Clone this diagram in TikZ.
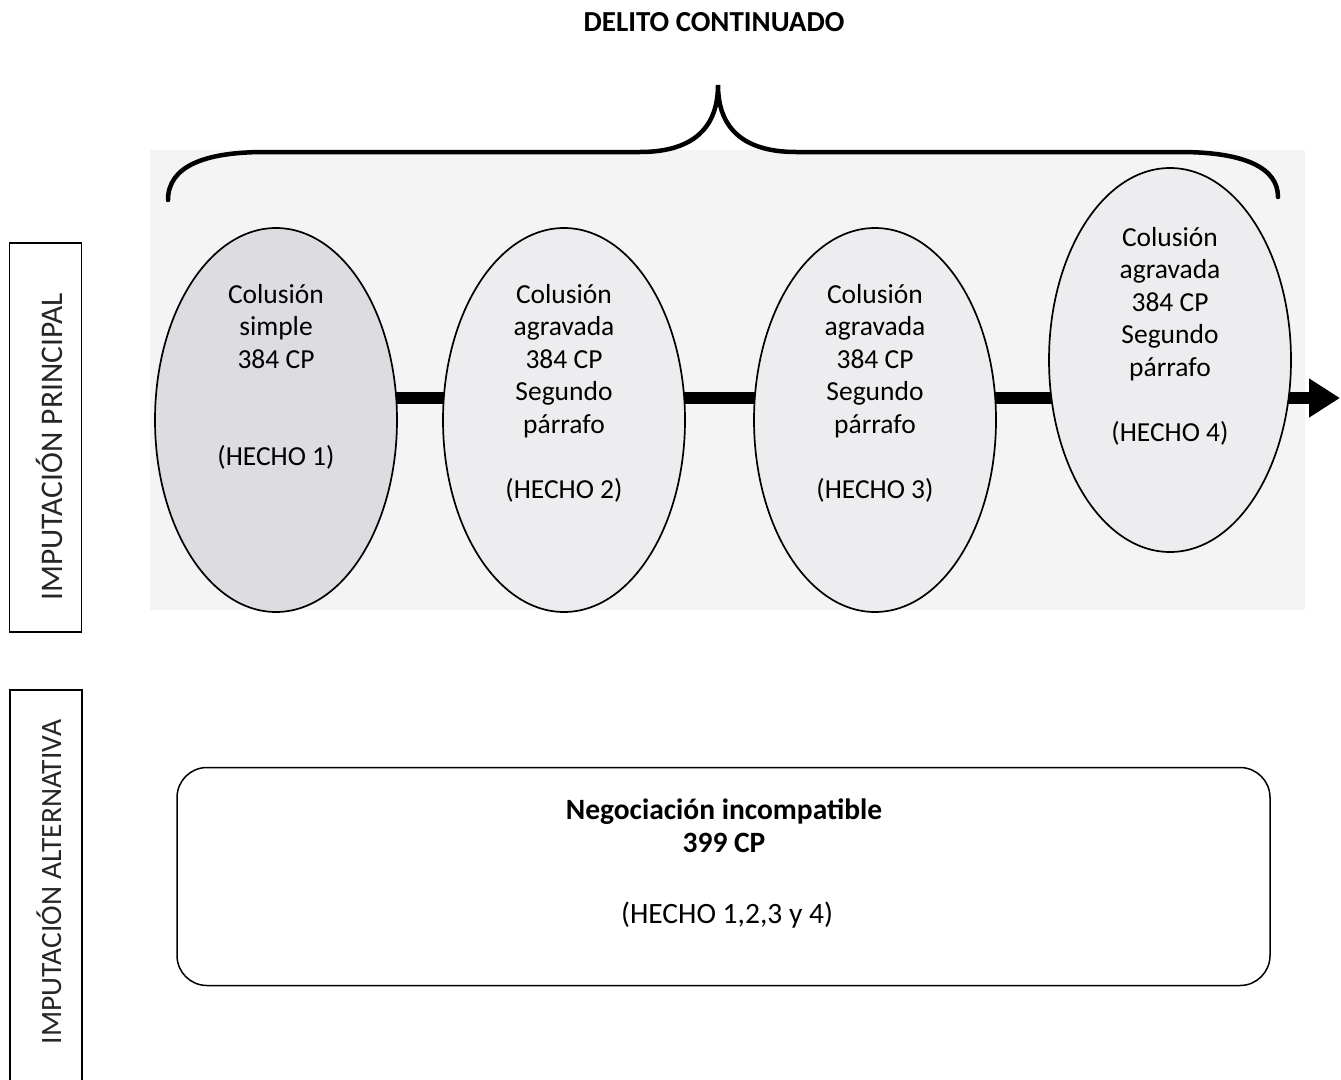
\documentclass[tikz,border=0pt]{standalone}
\usepackage{fontspec}
\setmainfont{Carlito}
\usetikzlibrary{shapes.geometric,arrows.meta,backgrounds}
\definecolor{panel}{HTML}{F4F4F5}
\definecolor{firstfill}{HTML}{DCDCE1}
\definecolor{eventfill}{HTML}{EDEDF0}
\tikzset{
  txt/.style={font=\fontsize{27.5}{32.5}\selectfont, align=center, inner sep=0pt},
  boldtxt/.style={align=center, inner sep=0pt, font=\fontsize{29.5}{33}\selectfont\bfseries},
  event/.style={ellipse, draw, line width=1.7pt, minimum width=242, minimum height=384, inner sep=0pt},
  bar/.style={line width=11.5pt},
  sidebox/.style={draw, line width=1.3pt, inner sep=0pt},
  sidetxt/.style={rotate=90, inner sep=0pt, text=black!85},
  brace/.style={line width=4.5pt, line cap=round},
}
\begin{document}
\begin{tikzpicture}[x=1pt,y=-1pt]
\clip (0,0) rectangle (1341,1079);

% title and brace
\node[boldtxt, font=\fontsize{29}{33}\selectfont\bfseries] (title) at (714,22) {DELITO CONTINUADO};
\draw[brace] (168,200) .. controls (168,166) and (205,152) .. (265,152) -- (640,152)
  .. controls (695,152) and (718,126) .. (718,85)
  .. controls (718,126) and (741,152) .. (796,152) -- (1180,152)
  .. controls (1245,152) and (1278,168) .. (1278,197);

% side labels
\node[sidebox, minimum height=72, minimum width=389, rotate=90] (boxmain) at (45.5,437.5) {};
\node[sidetxt, font=\fontsize{31.5}{36}\selectfont] (lblmain) at (49,447) {IMPUTACIÓN PRINCIPAL};
\node[sidebox, minimum height=72, minimum width=400, rotate=90] (boxalt) at (46,890) {};
\node[sidetxt, font=\fontsize{29.5}{36}\selectfont] (lblalt) at (49,882) {IMPUTACIÓN ALTERNATIVA};

% the four facts
\node[event, fill=firstfill] (e1) at (276,420) {};
\node[event, fill=eventfill] (e2) at (564,420) {};
\node[event, fill=eventfill] (e3) at (875,420) {};
\node[event, fill=eventfill] (e4) at (1170,360) {};

\node[txt] (t1) at (276,377) {Colusión\\simple\\384 CP\\[65pt](HECHO 1)};
\node[txt] (t2) at (564,393) {Colusión\\agravada\\384 CP\\Segundo\\párrafo\\[32.5pt](HECHO 2)};
\node[txt] (t3) at (875,393) {Colusión\\agravada\\384 CP\\Segundo\\párrafo\\[32.5pt](HECHO 3)};
\node[txt] (t4) at (1170,336) {Colusión\\agravada\\384 CP\\Segundo\\párrafo\\[32.5pt](HECHO 4)};

\coordinate (axis) at (0,398);
\coordinate (tipend) at (1340,398);

\begin{scope}[on background layer]
  \fill[panel] (150,150) rectangle (1305,610);
  \draw[bar] (e1 |- axis) -- (e2 |- axis);
  \draw[bar] (e2 |- axis) -- (e3 |- axis);
  \draw[bar] (e3 |- axis) -- (e4 |- axis);
  \draw[bar, -{Triangle[length=31pt,width=37pt]}] (e4 |- axis) -- (tipend);
\end{scope}

% alternative charge
\node[draw, line width=1.5pt, rounded corners=30pt, minimum width=1093, minimum height=218, inner sep=0pt] (neg) at (723.5,876.5) {};
\node[boldtxt] (negt) at (724,826) {Negociación incompatible\\399 CP};
\node[txt, font=\fontsize{29.5}{33}\selectfont] (negh) at (727,915) {(HECHO 1,2,3 y 4)};
\end{tikzpicture}
\end{document}
